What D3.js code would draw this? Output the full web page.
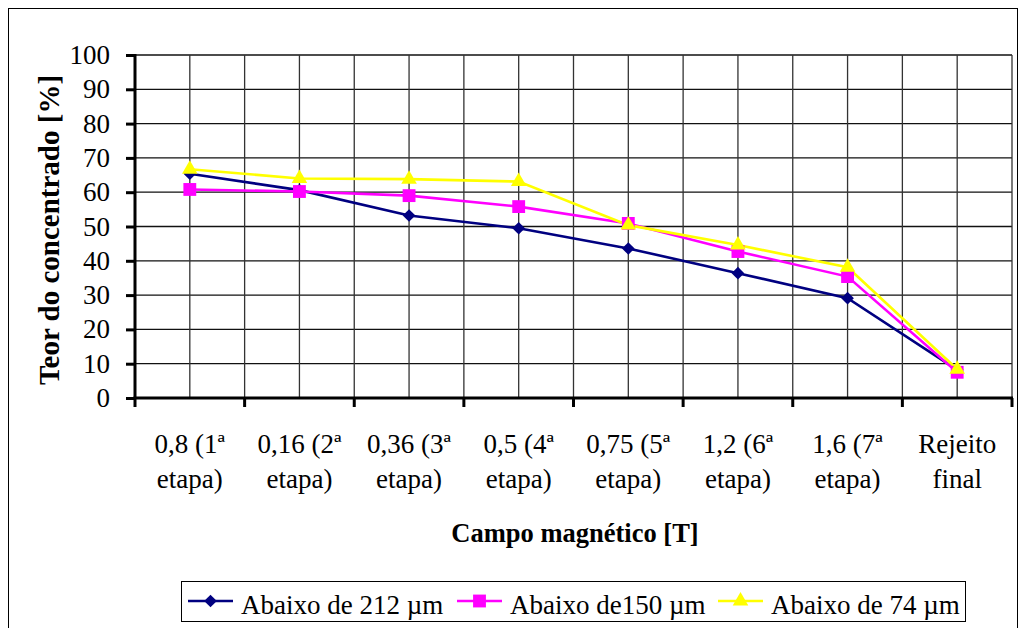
<!DOCTYPE html>
<html>
<head>
<meta charset="utf-8">
<script src="https://cdn.jsdelivr.net/npm/d3@7"></script>
<style>
  text { font-family: 'Liberation Serif', 'Times New Roman', Tinos, serif !important; }
</style>
</head>
<body style="margin:0">
<svg width="1019" height="628"></svg>
<script>
// Categories (two lines each) and series values
var categories = ['c1', 'c2', 'c3', 'c4', 'c5', 'c6', 'c7', 'c8'];
var labelLine1 = ['0,8 (1ª', '0,16 (2ª', '0,36 (3ª', '0,5 (4ª', '0,75 (5ª', '1,2 (6ª', '1,6 (7ª', 'Rejeito'];
var labelLine2 = ['etapa)', 'etapa)', 'etapa)', 'etapa)', 'etapa)', 'etapa)', 'etapa)', 'final'];
var yTicks = [0, 10, 20, 30, 40, 50, 60, 70, 80, 90, 100];

var series212 = [65.4, 60.6, 53.2, 49.5, 43.6, 36.4, 29.1, 8.2];
var series150 = [60.8, 60.2, 59.0, 55.8, 50.9, 42.7, 35.4, 7.5];
var series74 = [66.7, 64.0, 63.8, 63.1, 50.4, 44.6, 38.1, 8.4];

var seriesNames = ['Abaixo de 212 µm', 'Abaixo de150 µm', 'Abaixo de 74 µm'];
var seriesColors = ['#000080', '#ff00ff', '#ffff00'];

var FONT = 'Times New Roman';

var svg = d3.select('svg');

// marker drawing, diamond = rotated square
function marker(sel, s) {
    if (s === 0) {
        sel.append('path')
            .attr('d', d3.symbol().type(d3.symbolSquare).size(80))
            .attr('transform', 'rotate(45)')
            .attr('fill', seriesColors[s]);
    } else if (s === 1) {
        sel.append('path')
            .attr('d', d3.symbol().type(d3.symbolSquare).size(165))
            .attr('fill', seriesColors[s]);
    } else {
        sel.append('path')
            .attr('d', d3.symbol().type(d3.symbolTriangle).size(105))
            .attr('fill', seriesColors[s]);
    }
}

// text helper
function label(parent, x, y, str, size, weight) {
    return parent.append('text')
        .attr('x', x).attr('y', y)
        .attr('font-size', size)
        .attr('font-family', FONT)
        .attr('font-weight', weight || 'normal')
        .text(str);
}

// outer frame
svg.append('rect')
    .attr('x', 8.5).attr('y', 8.5)
    .attr('width', 1009).attr('height', 640)
    .attr('fill', 'none').attr('stroke', '#000').attr('stroke-width', 1);

var plot = {l: 135, r: 1012, t: 55, b: 398};

var xScale = d3.scaleBand()
    .domain(categories)
    .range([plot.l, plot.r]);

var yScale = d3.scaleLinear()
    .domain([0, 100])
    .range([plot.b, plot.t]);

var gridG = svg.append('g');

// horizontal gridlines
gridG.selectAll('.hgrid')
    .data(yTicks.slice(1))
    .enter().append('line')
    .attr('class', 'hgrid')
    .attr('x1', plot.l).attr('x2', plot.r)
    .attr('y1', function(d) { return yScale(d); })
    .attr('y2', function(d) { return yScale(d); })
    .attr('stroke', '#111').attr('stroke-width', 1.3);

// vertical gridlines at band edges and centers
var vLines = [];
categories.forEach(function(c, i) {
    vLines.push(xScale(c) + xScale.bandwidth() / 2);
    if (i > 0) vLines.push(xScale(c));
});
vLines.push(plot.r);
gridG.selectAll('.vgrid')
    .data(vLines)
    .enter().append('line')
    .attr('class', 'vgrid')
    .attr('x1', function(d) { return d; }).attr('x2', function(d) { return d; })
    .attr('y1', plot.t).attr('y2', plot.b)
    .attr('stroke', '#333').attr('stroke-width', 1.3);

// y axis: line and ticks from the axis generator, labels drawn as plain text
var yAxisG = svg.append('g')
    .attr('transform', 'translate(' + plot.l + ',0)')
    .call(d3.axisLeft(yScale).tickValues(yTicks).tickSize(9).tickFormat(''));
yAxisG.attr('font-family', null).attr('font-size', null);
yAxisG.select('.domain').attr('stroke-width', 3).attr('d', 'M0,' + (plot.t - 1) + 'V' + (plot.b + 1));
yAxisG.selectAll('.tick line').attr('stroke-width', 3);
yAxisG.selectAll('.tick text').remove();
yTicks.forEach(function(v) {
    label(svg, plot.l - 25, yScale(v) + 9, String(v), 27)
        .attr('text-anchor', 'end');
});

// x axis
var xAxisG = svg.append('g')
    .attr('transform', 'translate(0,' + plot.b + ')');
xAxisG.append('line')
    .attr('x1', plot.l - 1.5).attr('x2', plot.r + 1)
    .attr('stroke', '#000').attr('stroke-width', 3);
var xTicks = categories.map(function(c) { return xScale(c); }).concat([plot.r]);
xAxisG.selectAll('.xtick')
    .data(xTicks)
    .enter().append('line')
    .attr('x1', function(d) { return d; }).attr('x2', function(d) { return d; })
    .attr('y1', 0).attr('y2', 9)
    .attr('stroke', '#000').attr('stroke-width', 3);

categories.forEach(function(c, i) {
    var cx = xScale(c) + xScale.bandwidth() / 2;
    label(svg, cx, 453, labelLine1[i], 27).attr('text-anchor', 'middle');
    label(svg, cx, 488, labelLine2[i], 27).attr('text-anchor', 'middle');
});

// axis titles
label(svg, 575, 542, 'Campo magnético [T]', 26.5, 'bold')
    .attr('text-anchor', 'middle');

label(svg, 0, 0, 'Teor do concentrado [%]', 29, 'bold')
    .attr('transform', 'translate(59,230) rotate(-90)')
    .attr('text-anchor', 'middle');

// series lines + markers
var allSeries = [series212, series150, series74];
var line = d3.line()
    .x(function(d, i) { return xScale(categories[i]) + xScale.bandwidth() / 2; })
    .y(function(d) { return yScale(d); });

allSeries.forEach(function(values, s) {
    svg.append('path')
        .datum(values)
        .attr('d', line)
        .attr('fill', 'none')
        .attr('stroke', seriesColors[s])
        .attr('stroke-width', 2.6);
});
allSeries.forEach(function(values, s) {
    svg.selectAll('.m' + s)
        .data(values)
        .enter().append('g')
        .attr('class', 'm' + s)
        .attr('transform', function(d, i) {
            return 'translate(' + (xScale(categories[i]) + xScale.bandwidth() / 2) + ',' + yScale(d) + ')';
        })
        .each(function() { marker(d3.select(this), s); });
});

// legend
var legend = svg.append('g');
legend.append('rect')
    .attr('x', 181.5).attr('y', 581.5)
    .attr('width', 784).attr('height', 40)
    .attr('fill', '#fff').attr('stroke', '#000').attr('stroke-width', 1);

var legendX = [188, 457, 718];
seriesNames.forEach(function(name, s) {
    var g = legend.append('g').attr('transform', 'translate(' + legendX[s] + ',601)');
    g.append('line').attr('x1', 0).attr('x2', 45)
        .attr('stroke', seriesColors[s]).attr('stroke-width', 2.6);
    marker(g.append('g').attr('transform', 'translate(22.5,0)'), s);
    label(g, 53, 13, name, 27);
});
</script>
</body>
</html>
